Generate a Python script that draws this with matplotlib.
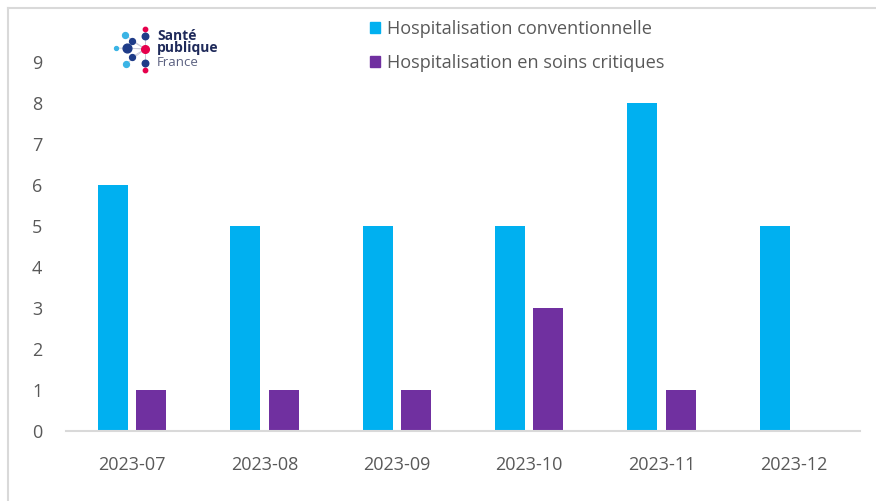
import numpy as np
import matplotlib.pyplot as plt
from matplotlib.lines import Line2D
from matplotlib.patches import Patch

months = ['2023-07', '2023-08', '2023-09', '2023-10', '2023-11', '2023-12']
conventionnelle = [6, 5, 5, 5, 8, 5]
soins_critiques = [1, 1, 1, 3, 1, 0]

BLUE = '#00B0F0'
PURPLE = '#7030A0'
TXT = '#595959'

plt.rcParams['font.family'] = ['Open Sans', 'DejaVu Sans']

W, H = 876, 501
fig = plt.figure(figsize=(W / 100, H / 100), dpi=100)
ax = fig.add_axes([66 / W, 1 - 431 / H, (860 - 66) / W, (431 - 62) / H])

x = np.arange(len(months))
bw = 0.227
off = 0.144
ax.bar(x - off, conventionnelle, bw, color=BLUE, label='Hospitalisation conventionnelle')
# no bar drawn for zero values
crit = np.array(soins_critiques, dtype=float)
mask = crit > 0
ax.bar(x[mask] + off, crit[mask], bw, color=PURPLE, label='Hospitalisation en soins critiques')

ax.set_xlim(-0.5, len(months) - 0.5)
ax.set_ylim(0, 9)
ax.set_yticks(range(0, 10))
ax.set_xticks(x)
ax.set_xticklabels(months)
ax.tick_params(axis='both', length=0, labelsize=13, colors=TXT)
ax.tick_params(axis='x', pad=18)
ax.tick_params(axis='y', pad=17)
for s in ['top', 'right', 'left']:
    ax.spines[s].set_visible(False)
ax.spines['bottom'].set_color('#D9D9D9')
ax.spines['bottom'].set_linewidth(1.5)

# legend at top
handles = [Patch(color=BLUE), Patch(color=PURPLE)]
fig.legend(handles, ['Hospitalisation conventionnelle', 'Hospitalisation en soins critiques'],
           loc='upper left', bbox_to_anchor=(363 / W, 1 - 13 / H), frameon=False,
           fontsize=13.05, labelcolor=TXT, handlelength=0.55, handleheight=0.55,
           handletextpad=0.4, labelspacing=0.85, borderaxespad=0)

# outer frame (top and left edges)
fig.add_artist(Line2D([8 / W, 8 / W], [0, 1 - 8 / H], color='#D9D9D9', lw=1.5,
                      transform=fig.transFigure))
fig.add_artist(Line2D([8 / W, 1], [1 - 8 / H, 1 - 8 / H], color='#D9D9D9', lw=1.5,
                      transform=fig.transFigure))

# logo
center = (145, 49)
dots = [
    (145, 29, 10, '#E6004C'), (145, 36, 22, '#1F3C88'), (125, 35, 18, '#3BB4E5'),
    (132, 41, 18, '#1F3C88'), (127, 48, 40, '#1F3C88'), (116, 48, 8, '#3BB4E5'),
    (132, 57, 18, '#1F3C88'), (126, 64, 18, '#3BB4E5'), (145, 63, 22, '#1F3C88'),
    (145, 70, 10, '#E6004C'),
]
for dx, dy, s, c in dots:
    fig.add_artist(Line2D([center[0] / W, dx / W], [1 - center[1] / H, 1 - dy / H],
                          color='#C8C8D8', lw=0.6, transform=fig.transFigure))
for dx, dy, s, c in dots:
    fig.add_artist(Line2D([dx / W], [1 - dy / H], marker='o', ms=np.sqrt(s), color=c,
                          lw=0, transform=fig.transFigure))
fig.add_artist(Line2D([center[0] / W], [1 - center[1] / H], marker='o', ms=5.5,
                      color='#E6004C', lw=0, transform=fig.transFigure))
fig.text(157 / W, 1 - 42 / H, 'Santé\npublique', fontsize=10, fontweight='bold',
         color='#1F2A5A', va='center', linespacing=0.9)
fig.text(157 / W, 1 - 63 / H, 'France', fontsize=9.5, color='#5A6080', va='center')

fig.savefig('out.png', dpi=100)
